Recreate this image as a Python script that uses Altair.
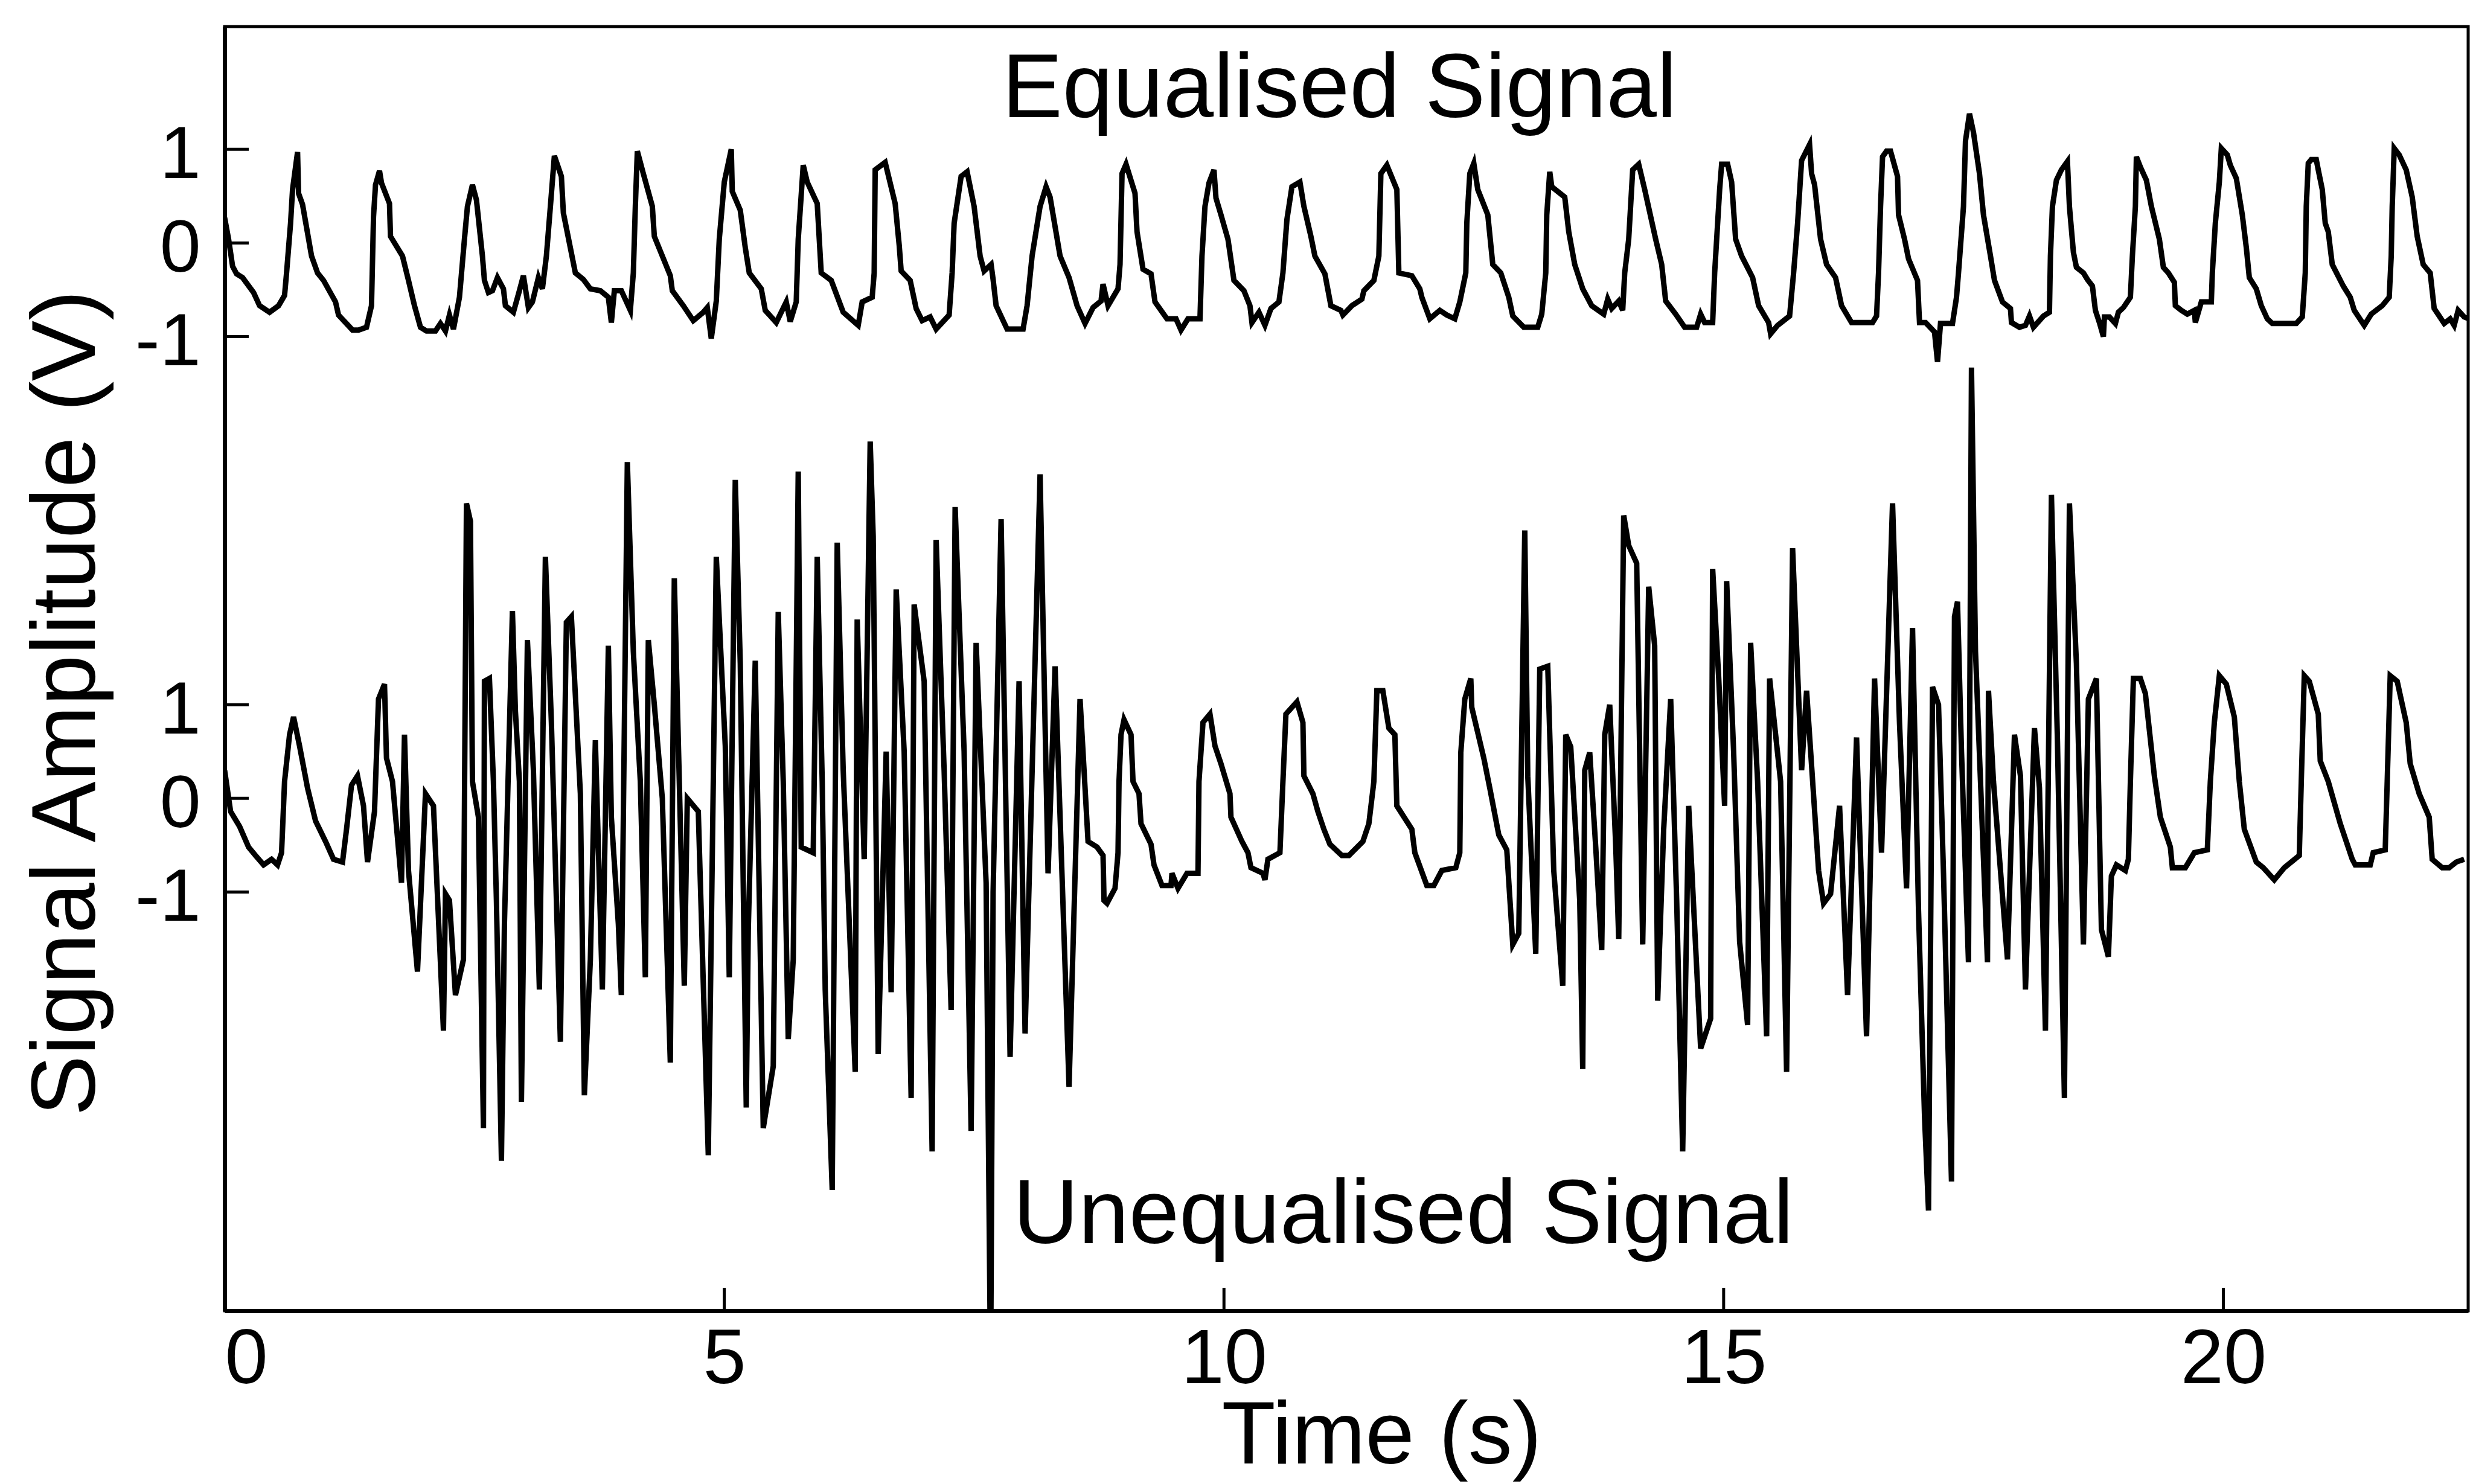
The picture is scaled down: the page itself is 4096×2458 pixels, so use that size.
import altair as alt
import pandas as pd

# ---------------- data ----------------
# Equalised signal (upper trace), time in s, amplitude in V
upper_t = [0.00, 0.04, 0.08, 0.12, 0.18, 0.29, 0.35, 0.45, 0.54, 0.60, 0.62, 0.66, 0.68, 0.73, 0.74, 0.78, 0.87, 0.93, 0.99,
           1.11, 1.14, 1.28, 1.34, 1.42, 1.47, 1.49, 1.51, 1.55, 1.57, 1.65, 1.66, 1.78, 1.84, 1.90, 1.96, 2.02, 2.11, 2.16,
           2.21, 2.25, 2.29, 2.35, 2.40, 2.43, 2.48, 2.52, 2.58, 2.60, 2.64, 2.68, 2.73, 2.79, 2.81, 2.89, 2.95, 2.99, 3.04,
           3.08, 3.14, 3.18, 3.22, 3.26, 3.30, 3.37, 3.39, 3.51, 3.59, 3.66, 3.76, 3.84, 3.87, 3.90, 3.97, 4.06, 4.09, 4.11,
           4.13, 4.19, 4.28, 4.30, 4.46, 4.48, 4.59, 4.69, 4.79, 4.83, 4.87, 4.92, 4.95, 5.00, 5.07, 5.08, 5.16, 5.21, 5.25,
           5.37, 5.41, 5.52, 5.62, 5.66, 5.72, 5.74, 5.79, 5.83, 5.93, 5.97, 6.07, 6.19, 6.34, 6.38, 6.48, 6.50, 6.51, 6.61,
           6.71, 6.75, 6.77, 6.86, 6.92, 6.98, 7.06, 7.12, 7.25, 7.28, 7.30, 7.37, 7.43, 7.50, 7.56, 7.60, 7.67, 7.69, 7.72,
           7.83, 7.99, 8.03, 8.08, 8.16, 8.22, 8.26, 8.36, 8.45, 8.53, 8.61, 8.69, 8.77, 8.79, 8.84, 8.94, 8.96, 8.98, 9.02,
           9.11, 9.13, 9.19, 9.27, 9.31, 9.43, 9.52, 9.57, 9.64, 9.76, 9.78, 9.81, 9.85, 9.90, 9.92, 9.97, 10.04, 10.10,
           10.20, 10.26, 10.28, 10.35, 10.41, 10.47, 10.55, 10.59, 10.63, 10.68, 10.76, 10.80, 10.87, 10.91, 11.01, 11.07,
           11.17, 11.19, 11.28, 11.38, 11.40, 11.50, 11.55, 11.57, 11.63, 11.73, 11.75, 11.88, 11.96, 11.98, 12.06, 12.16,
           12.23, 12.31, 12.36, 12.42, 12.43, 12.46, 12.50, 12.54, 12.64, 12.69, 12.77, 12.85, 12.89, 13.00, 13.14, 13.18,
           13.22, 13.23, 13.26, 13.28, 13.41, 13.45, 13.51, 13.59, 13.68, 13.80, 13.84, 13.88, 13.95, 13.99, 14.01, 14.05,
           14.09, 14.15, 14.21, 14.32, 14.38, 14.42, 14.52, 14.61, 14.73, 14.77, 14.81, 14.89, 14.91, 14.96, 14.98, 15.04,
           15.08, 15.12, 15.18, 15.29, 15.35, 15.45, 15.47, 15.54, 15.66, 15.70, 15.74, 15.78, 15.86, 15.88, 15.91, 15.97,
           16.03, 16.12, 16.18, 16.28, 16.49, 16.53, 16.55, 16.57, 16.59, 16.63, 16.67, 16.74, 16.75, 16.81, 16.85, 16.94,
           16.96, 17.02, 17.11, 17.14, 17.17, 17.29, 17.33, 17.35, 17.40, 17.42, 17.46, 17.50, 17.56, 17.60, 17.67, 17.71,
           17.79, 17.87, 17.88, 17.96, 18.02, 18.06, 18.10, 18.20, 18.26, 18.27, 18.29, 18.33, 18.38, 18.44, 18.46, 18.50,
           18.53, 18.60, 18.64, 18.69, 18.72, 18.76, 18.80, 18.81, 18.86, 18.92, 18.95, 19.00, 19.07, 19.09, 19.12, 19.13,
           19.17, 19.23, 19.28, 19.36, 19.40, 19.45, 19.51, 19.52, 19.58, 19.64, 19.71, 19.72, 19.78, 19.88, 19.89, 19.92,
           19.96, 19.98, 20.04, 20.07, 20.13, 20.19, 20.23, 20.26, 20.33, 20.38, 20.44, 20.49, 20.73, 20.79, 20.82, 20.83,
           20.85, 20.88, 20.93, 20.95, 20.99, 21.02, 21.05, 21.09, 21.20, 21.27, 21.31, 21.41, 21.48, 21.59, 21.66, 21.68,
           21.69, 21.71, 21.76, 21.83, 21.89, 21.94, 22.00, 22.07, 22.11, 22.21, 22.27, 22.31, 22.35, 22.41, 22.46]
upper_v = [0.27, 0.04, -0.25, -0.33, -0.37, -0.53, -0.67, -0.74, -0.67, -0.56, -0.32, 0.21, 0.57, 0.97, 0.53, 0.41, -0.14, -0.32, -0.40,
           -0.63, -0.77, -0.93, -0.93, -0.90, -0.67, 0.28, 0.62, 0.77, 0.64, 0.42, 0.07, -0.14, -0.40, -0.67, -0.90, -0.94, -0.94, -0.86,
           -0.94, -0.77, -0.92, -0.58, 0.04, 0.39, 0.62, 0.46, -0.14, -0.40, -0.53, -0.51, -0.37, -0.49, -0.67, -0.74, -0.51, -0.35, -0.69,
           -0.63, -0.37, -0.49, -0.14, 0.39, 0.93, 0.71, 0.32, -0.32, -0.39, -0.49, -0.51, -0.58, -0.85, -0.51, -0.51, -0.72, -0.32, 0.39,
           0.98, 0.74, 0.39, 0.07, -0.35, -0.51, -0.67, -0.83, -0.74, -0.69, -1.02, -0.62, 0.04, 0.65, 1.00, 0.55, 0.35, -0.05, -0.32,
           -0.49, -0.72, -0.85, -0.63, -0.84, -0.63, 0.04, 0.83, 0.65, 0.42, -0.32, -0.40, -0.74, -0.88, -0.63, -0.58, -0.32, 0.78, 0.86,
           0.42, -0.02, -0.30, -0.40, -0.70, -0.83, -0.79, -0.92, -0.77, -0.32, 0.21, 0.71, 0.76, 0.39, -0.14, -0.30, -0.23, -0.39, -0.67,
           -0.92, -0.92, -0.67, -0.14, 0.39, 0.60, 0.49, -0.14, -0.37, -0.67, -0.86, -0.69, -0.62, -0.44, -0.67, -0.49, -0.23, 0.74, 0.84,
           0.53, 0.12, -0.28, -0.33, -0.63, -0.81, -0.81, -0.93, -0.81, -0.81, -0.14, 0.39, 0.64, 0.78, 0.48, 0.30, 0.04, -0.40,
           -0.51, -0.67, -0.85, -0.74, -0.88, -0.70, -0.63, -0.32, 0.25, 0.60, 0.65, 0.39, 0.07, -0.14, -0.33, -0.67,
           -0.72, -0.77, -0.67, -0.60, -0.51, -0.40, -0.14, 0.74, 0.83, 0.57, -0.32, -0.35, -0.49, -0.58, -0.81, -0.72,
           -0.77, -0.81, -0.63, -0.32, 0.21, 0.74, 0.85, 0.57, 0.30, -0.23, -0.32, -0.58, -0.78, -0.90, -0.90, -0.76,
           -0.32, 0.30, 0.76, 0.60, 0.49, 0.12, -0.23, -0.49, -0.67, -0.76, -0.60, -0.70, -0.62, -0.72, -0.32, 0.04,
           0.78, 0.84, 0.57, 0.04, -0.23, -0.62, -0.76, -0.90, -0.90, -0.76, -0.85, -0.85, -0.32, 0.57, 0.84, 0.84,
           0.65, 0.04, -0.14, -0.37, -0.67, -0.85, -0.97, -0.88, -0.78, -0.32, 0.21, 0.88, 1.05, 0.74, 0.62, 0.04,
           -0.23, -0.37, -0.67, -0.85, -0.85, -0.78, -0.32, 0.39, 0.92, 0.98, 0.98, 0.71, 0.30, 0.04, -0.17, -0.40,
           -0.85, -0.85, -0.95, -1.27, -0.86, -0.86, -0.58, -0.32, 0.39, 1.09, 1.38, 1.18, 0.74, 0.30, -0.14, -0.40,
           -0.63, -0.70, -0.85, -0.90, -0.88, -0.78, -0.90, -0.78, -0.74, -0.14, 0.39, 0.67, 0.78, 0.87, 0.39, -0.10,
           -0.26, -0.32, -0.39, -0.46, -0.72, -0.85, -1.00, -0.79, -0.79, -0.86, -0.74, -0.69, -0.58, -0.14, 0.39, 0.92,
           0.81, 0.67, 0.39, 0.04, -0.26, -0.32, -0.42, -0.67, -0.72, -0.76, -0.72, -0.85, -0.63, -0.63, -0.32, 0.21,
           0.65, 1.01, 0.94, 0.83, 0.69, 0.30, -0.05, -0.37, -0.49, -0.67, -0.81, -0.86, -0.86, -0.79, -0.32, 0.39,
           0.85, 0.89, 0.89, 0.78, 0.57, 0.21, 0.12, -0.23, -0.46, -0.58, -0.72, -0.88, -0.76, -0.67, -0.58, -0.14,
           0.39, 1.01, 0.94, 0.78, 0.49, 0.07, -0.23, -0.32, -0.70, -0.86, -0.81, -0.88, -0.72, -0.79, -0.81]

# Unequalised signal (lower trace), time in s, amplitude in V
lower_t = [0.00, 0.06, 0.15, 0.24, 0.31, 0.39, 0.47, 0.53, 0.57, 0.60, 0.65, 0.69, 0.75, 0.83, 0.91, 1.01, 1.09, 1.18, 1.22,
           1.27, 1.33, 1.39, 1.43, 1.50, 1.54, 1.60, 1.62, 1.68, 1.77, 1.80, 1.84, 1.93, 2.01, 2.09, 2.19, 2.21, 2.25, 2.31,
           2.39, 2.42, 2.46, 2.48, 2.54, 2.59, 2.60, 2.65, 2.69, 2.72, 2.77, 2.80, 2.88, 2.91, 2.95, 2.97, 3.03, 3.09, 3.15,
           3.21, 3.27, 3.36, 3.42, 3.47, 3.56, 3.60, 3.66, 3.71, 3.78, 3.84, 3.87, 3.94, 3.97, 4.03, 4.06, 4.09, 4.16, 4.21,
           4.24, 4.30, 4.38, 4.46, 4.50, 4.60, 4.63, 4.74, 4.84, 4.92, 5.01, 5.05, 5.11, 5.16, 5.22, 5.24, 5.31, 5.39, 5.49,
           5.54, 5.59, 5.64, 5.69, 5.74, 5.77, 5.89, 5.93, 5.98, 6.01, 6.08, 6.13, 6.19, 6.31, 6.33, 6.40, 6.46, 6.49, 6.54,
           6.62, 6.67, 6.72, 6.80, 6.87, 6.90, 7.00, 7.08, 7.12, 7.20, 7.27, 7.31, 7.40, 7.47, 7.52, 7.62, 7.665, 7.69, 7.77,
           7.86, 7.95, 8.01, 8.16, 8.24, 8.31, 8.45, 8.56, 8.64, 8.73, 8.79, 8.80, 8.83, 8.91, 8.94, 8.95, 8.97, 9.00, 9.07,
           9.09, 9.15, 9.17, 9.27, 9.30, 9.38, 9.47, 9.48, 9.54, 9.63, 9.74, 9.75, 9.79, 9.86, 9.91, 9.97, 10.06, 10.07,
           10.18, 10.24, 10.27, 10.39, 10.41, 10.44, 10.56, 10.59, 10.62, 10.73, 10.79, 10.80, 10.89, 10.94, 11.00, 11.06,
           11.18, 11.25, 11.39, 11.45, 11.50, 11.53, 11.59, 11.65, 11.71, 11.73, 11.88, 11.91, 12.03, 12.10, 12.18, 12.32,
           12.36, 12.37, 12.41, 12.47, 12.48, 12.60, 12.66, 12.75, 12.83, 12.89, 12.95, 13.01, 13.04, 13.12, 13.16, 13.24,
           13.30, 13.39, 13.42, 13.47, 13.56, 13.59, 13.61, 13.66, 13.72, 13.78, 13.81, 13.86, 13.92, 13.95, 14.00, 14.05,
           14.13, 14.19, 14.25, 14.31, 14.34, 14.40, 14.47, 14.53, 14.59, 14.65, 14.77, 14.87, 14.89, 14.95, 15.01, 15.03,
           15.10, 15.16, 15.24, 15.27, 15.34, 15.43, 15.46, 15.57, 15.63, 15.69, 15.78, 15.83, 15.95, 16.00, 16.07, 16.16,
           16.24, 16.33, 16.43, 16.51, 16.58, 16.69, 16.76, 16.83, 16.89, 16.95, 17.01, 17.05, 17.09, 17.15, 17.20, 17.28,
           17.31, 17.34, 17.38, 17.45, 17.48, 17.52, 17.64, 17.65, 17.70, 17.84, 17.91, 17.97, 18.02, 18.11, 18.16, 18.22,
           18.28, 18.34, 18.41, 18.46, 18.53, 18.60, 18.65, 18.73, 18.78, 18.85, 18.88, 18.93, 19.02, 19.05, 19.07, 19.10,
           19.17, 19.22, 19.31, 19.37, 19.47, 19.49, 19.62, 19.71, 19.84, 19.87, 19.91, 19.96, 20.03, 20.11, 20.16, 20.21,
           20.33, 20.40, 20.51, 20.61, 20.76, 20.78, 20.81, 20.86, 20.95, 20.97, 21.05, 21.17, 21.29, 21.32, 21.47, 21.50,
           21.62, 21.64, 21.67, 21.74, 21.83, 21.87, 21.96, 22.06, 22.09, 22.19, 22.26, 22.33, 22.41]
lower_v = [0.30, -0.14, -0.30, -0.52, -0.61, -0.71, -0.65, -0.71, -0.58, 0.18, 0.68, 0.87, 0.56, 0.11, -0.24, -0.46, -0.65, -0.68, -0.33,
           0.14, 0.24, -0.08, -0.68, -0.14, 1.06, 1.22, 0.43, 0.18, -0.90, 0.68, -0.77, -1.85, 0.05, -0.08, -2.48, -1.02, -1.09, -2.10,
           -1.72, 3.15, 2.96, 0.18, -0.20, -3.52, 1.25, 1.28, 0.18, -1.09, -3.87, -1.34, 2.00, 0.93, 0.18, -3.24, 1.69, 0.30, -2.04,
           2.58, 0.81, -2.60, 1.88, 1.94, 0.05, -3.17, -1.72, 0.62, -2.04, 1.63, -0.20, -1.34, -2.10, 3.59, 2.58, 1.57, 0.18, -1.91,
           1.69, 1.00, 0.00, -2.82, 2.35, -2.00, 0.00, -0.14, -3.81, 2.58, 0.56, -1.91, 3.40, 1.44, -3.30, -1.40, 1.47, -3.52, -2.86,
           1.99, 0.18, -2.57, -1.72, 3.49, -0.52, -0.58, 2.58, 0.18, -2.04, -4.18, 2.73, 0.30, -2.92, 1.91, -0.65, 3.81, 2.80, -2.73,
           0.50, -2.07, 2.23, 0.50, -3.20, 2.07, 1.25, -3.77, 2.76, 0.30, -2.26, 3.11, 0.50, -3.55, 1.66, -0.90, -6.20, -1.00, 2.98,
           -2.76, 1.25, -2.51, 3.46, -0.80, 1.41, -3.08, 1.06, -0.46, -0.52, -0.61, -1.09, -1.12, -0.96, -0.58, 0.18, 0.68, 0.84, 0.68,
           0.18, 0.05, -0.27, -0.49, -0.71, -0.93, -0.93, -0.80, -0.96, -0.80, -0.80, 0.18, 0.81, 0.90, 0.56, 0.37, 0.05, -0.20,
           -0.46, -0.58, -0.74, -0.80, -0.87, -0.65, -0.58, 0.18, 0.90, 1.03, 0.81, 0.24, 0.05, -0.14, -0.33, -0.49,
           -0.61, -0.61, -0.46, -0.27, 0.18, 1.15, 1.15, 0.75, 0.68, -0.08, -0.33, -0.58, -0.93, -0.93, -0.77, -0.74,
           -0.58, 0.49, 1.06, 1.28, 0.97, 0.43, 0.11, -0.39, -0.55, -1.56, -1.44, 2.86, 0.24, -1.66, 1.38, 1.41,
           -0.77, -2.00, 0.68, 0.55, -1.09, -2.89, 0.30, 0.49, -0.52, -1.62, 0.68, 1.00, -0.50, -1.50, 3.02, 2.70,
           2.51, -1.56, 2.26, 1.63, -2.16, -0.33, 1.06, -1.09, -3.77, -0.08, -2.67, -2.35, 2.45, 1.30, -0.08, 2.32,
           0.50, -1.53, -2.42, 1.66, 0.18, -2.54, 1.28, 0.18, -2.92, 2.67, 0.30, 1.15, -0.77, -1.12, -1.02, -0.08,
           -2.10, 0.65, -2.54, 1.28, -0.58, 3.15, 0.80, -0.96, 1.82, -1.20, -3.39, -4.40, 1.19, 1.00, -0.80, -4.09,
           1.94, 2.10, 0.50, -1.75, 4.60, 1.57, -1.75, 1.15, 0.18, -1.72, 0.68, 0.24, -2.04, 0.75, 0.11, -2.48,
           3.24, 0.62, -3.20, 3.15, 1.44, -1.56, 1.06, 1.28, -1.40, -1.69, -0.83, -0.71, -0.77, -0.65, 0.18, 1.28,
           1.28, 1.12, 0.24, -0.20, -0.52, -0.74, -0.74, -0.58, -0.55, 0.18, 0.81, 1.31, 1.22, 0.87, 0.18, -0.33,
           -0.68, -0.74, -0.87, -0.74, -0.61, 0.18, 1.31, 1.25, 0.90, 0.40, 0.18, -0.27, -0.65, -0.71, -0.71, -0.58,
           -0.55, 0.18, 1.31, 1.25, 0.81, 0.37, 0.05, -0.20, -0.65, -0.74, -0.74, -0.68, -0.65]

upper_offset = 5.93            # vertical shift of the equalised trace on the shared axis
x_domain = [0, 22.45]
y_domain = [-5.47, 8.24]
x_tick_values = [0, 5, 10, 15, 20]
trace_tick_values = [-1, 0, 1]

annot_text = ["Equalised Signal", "Unequalised Signal"]
annot_t = [7.78, 7.89]
annot_y = [7.27, -4.75]

# ---------------- layout (target pixels) ----------------
W, H = 3716, 2127
FONT = "Liberation Sans"

df_upper = pd.DataFrame({"t": upper_t, "y": [v + upper_offset for v in upper_v], "trace": "Equalised"})
df_lower = pd.DataFrame({"t": lower_t, "y": lower_v, "trace": "Unequalised"})
df = pd.concat([df_upper, df_lower], ignore_index=True)

y_ticks = [v for v in trace_tick_values] + [v + upper_offset for v in trace_tick_values]
df_yt = pd.DataFrame({"y": y_ticks})
df_xt = pd.DataFrame({"t": x_tick_values})
df_annot = pd.DataFrame({"t": annot_t, "y": annot_y, "label": annot_text})

xs = alt.Scale(domain=x_domain, nice=False, zero=False)
ys = alt.Scale(domain=y_domain, nice=False, zero=False)

label_expr = f"(datum.value > 3 ? round(datum.value - {upper_offset}) : round(datum.value)) + ''"

x_axis = alt.Axis(
    values=x_tick_values, format="d", title="Time (s)", grid=False,
    ticks=False, labelPadding=18, labelFontSize=128, labelFont=FONT,
    labelColor="black", titleFont=FONT, titleFontSize=146, titleFontWeight="normal",
    titleColor="black", titleX=1916, titleY=252, titleAlign="center",
    titleBaseline="alphabetic", domainColor="black", domainWidth=7)
y_axis = alt.Axis(
    values=y_ticks, labelExpr=label_expr, title="Signal Amplitude (V)", grid=False,
    ticks=False, labelPadding=40, labelFontSize=122, labelFont=FONT,
    labelColor="black", labelOffset=10, labelBaseline="middle",
    titleFont=FONT, titleFontSize=151, titleFontWeight="normal", titleColor="black",
    titleX=-216, titleY=1120, titleAngle=270, titleAlign="center",
    titleBaseline="alphabetic", domainColor="black", domainWidth=7)

X = alt.X("t:Q", scale=xs, axis=x_axis)
Y = alt.Y("y:Q", scale=ys, axis=y_axis)

lines = alt.Chart(df).mark_line(color="black", strokeWidth=9, clip=True).encode(
    x=X, y=Y, detail="trace:N",
)

xticks = alt.Chart(df_xt).mark_rule(color="black", strokeWidth=5).encode(
    x=X,
    y=alt.value(H),
    y2=alt.value(H - 38),
)

yticks = alt.Chart(df_yt).mark_rule(color="black", strokeWidth=5).encode(
    y=Y,
    x=alt.value(0),
    x2=alt.value(40),
)

annots = alt.Chart(df_annot).mark_text(
    align="left", baseline="alphabetic", font=FONT, fontSize=150, color="black"
).encode(
    x=X, y=Y, text="label:N",
)

chart = alt.layer(lines, xticks, yticks, annots).properties(
    width=W, height=H,
    autosize=alt.AutoSizeParams(type="none"),
    padding={"left": 372, "top": 44, "right": 8, "bottom": 287},
).configure(background="white").configure_view(stroke="black", strokeWidth=5)

chart.save("out.html", embed_options={"renderer": "svg", "actions": False})
